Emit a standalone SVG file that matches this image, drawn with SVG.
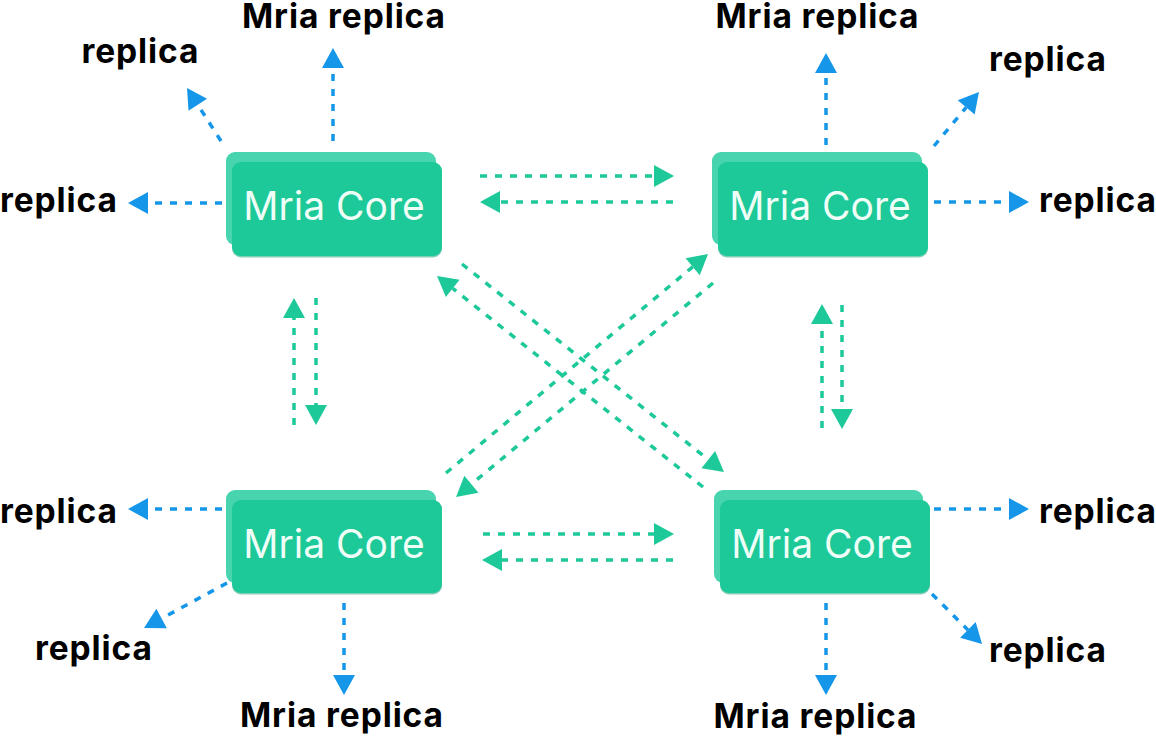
<svg xmlns="http://www.w3.org/2000/svg" width="1156" height="738" viewBox="0 0 1156 738">
<style>
.back{fill:#47d4ae}
.shadow{fill:#2fae8a;opacity:0.6}
.front{fill:#1dc899}
.core{font-family:Inter,"Noto Sans",sans-serif;font-size:39px;font-weight:400;fill:#effff8;text-anchor:middle}
.lbl{font-family:Inter,"Liberation Sans",sans-serif;font-size:33.5px;font-weight:700;fill:#000;text-anchor:middle}
.g{stroke:#1dc899;stroke-width:3.5;stroke-dasharray:7 8;fill:none}
.b{stroke:#1596e8;stroke-width:3.5;stroke-dasharray:7 8;fill:none}
</style>
<defs>
<marker id="ag" markerUnits="userSpaceOnUse" markerWidth="22" markerHeight="24" viewBox="0 -12 21 24" refX="0" refY="0" orient="auto"><path d="M0,-11 L20,0 L0,11 Z" fill="#1dc899"/></marker>
<marker id="ab" markerUnits="userSpaceOnUse" markerWidth="22" markerHeight="24" viewBox="0 -12 21 24" refX="0" refY="0" orient="auto"><path d="M0,-11 L20,0 L0,11 Z" fill="#1596e8"/></marker>
</defs>

<g id="connectors">
<line class="g" x1="480" y1="176" x2="654" y2="176" marker-end="url(#ag)"/>
<line class="g" x1="673" y1="202" x2="500" y2="202" marker-end="url(#ag)"/>
<line class="g" x1="483" y1="534" x2="654" y2="534" marker-end="url(#ag)"/>
<line class="g" x1="673" y1="560" x2="502" y2="560" marker-end="url(#ag)"/>
<line class="g" x1="294" y1="425" x2="294" y2="318" marker-end="url(#ag)"/>
<line class="g" x1="316" y1="298" x2="316" y2="405" marker-end="url(#ag)"/>
<line class="g" x1="822" y1="428" x2="822" y2="324" marker-end="url(#ag)"/>
<line class="g" x1="842" y1="305" x2="842" y2="409" marker-end="url(#ag)"/>
<line class="g" x1="462" y1="264" x2="708.3" y2="459.6" marker-end="url(#ag)"/>
<line class="g" x1="703" y1="487" x2="452.7" y2="288.4" marker-end="url(#ag)"/>
<line class="g" x1="446" y1="473" x2="692.7" y2="266.8" marker-end="url(#ag)"/>
<line class="g" x1="713" y1="283" x2="471.4" y2="484.2" marker-end="url(#ag)"/>
<line class="b" x1="333" y1="141" x2="333" y2="68" marker-end="url(#ab)"/>
<line class="b" x1="221" y1="141" x2="197.8" y2="104.8" marker-end="url(#ab)"/>
<line class="b" x1="222" y1="203" x2="148" y2="203" marker-end="url(#ab)"/>
<line class="b" x1="826" y1="145" x2="826" y2="73" marker-end="url(#ab)"/>
<line class="b" x1="934" y1="146" x2="966.2" y2="107.4" marker-end="url(#ab)"/>
<line class="b" x1="934" y1="202" x2="1009" y2="202" marker-end="url(#ab)"/>
<line class="b" x1="934" y1="509" x2="1009" y2="509" marker-end="url(#ab)"/>
<line class="b" x1="932" y1="594" x2="967.9" y2="629.9" marker-end="url(#ab)"/>
<line class="b" x1="826" y1="603" x2="826" y2="675" marker-end="url(#ab)"/>
<line class="b" x1="227" y1="583" x2="161.6" y2="618.5" marker-end="url(#ab)"/>
<line class="b" x1="344" y1="603" x2="344" y2="675" marker-end="url(#ab)"/>
<line class="b" x1="222" y1="509" x2="148" y2="509" marker-end="url(#ab)"/>
</g>

<g id="core-tl">
<rect class="back" x="226" y="152" width="210" height="93" rx="9"/>
<rect class="shadow" x="232" y="163.5" width="210" height="94" rx="9"/>
<rect class="front" x="232" y="162" width="210" height="94" rx="9"/>
<text class="core" x="334" y="220">Mria Core</text>
</g>
<g id="core-tr">
<rect class="back" x="712" y="152" width="210" height="93" rx="9"/>
<rect class="shadow" x="718" y="163.5" width="210" height="94" rx="9"/>
<rect class="front" x="718" y="162" width="210" height="94" rx="9"/>
<text class="core" x="820" y="220">Mria Core</text>
</g>
<g id="core-bl">
<rect class="back" x="226" y="490" width="210" height="93" rx="9"/>
<rect class="shadow" x="232" y="501.5" width="210" height="93" rx="9"/>
<rect class="front" x="232" y="500" width="210" height="93" rx="9"/>
<text class="core" x="334" y="558">Mria Core</text>
</g>
<g id="core-br">
<rect class="back" x="714" y="490" width="209" height="93" rx="9"/>
<rect class="shadow" x="720" y="501.5" width="210" height="93" rx="9"/>
<rect class="front" x="720" y="500" width="210" height="93" rx="9"/>
<text class="core" x="822" y="558">Mria Core</text>
</g>

<g id="replicas-tl">
<text class="lbl" x="343.5" y="28" textLength="203" lengthAdjust="spacing">Mria replica</text>
<text class="lbl" x="140" y="63" textLength="117" lengthAdjust="spacing">replica</text>
<text class="lbl" x="58.5" y="212" textLength="117" lengthAdjust="spacing">replica</text>
</g>
<g id="replicas-tr">
<text class="lbl" x="817" y="28" textLength="203" lengthAdjust="spacing">Mria replica</text>
<text class="lbl" x="1047.5" y="71" textLength="117" lengthAdjust="spacing">replica</text>
<text class="lbl" x="1097.5" y="212" textLength="117" lengthAdjust="spacing">replica</text>
</g>
<g id="replicas-br">
<text class="lbl" x="1097.5" y="523" textLength="117" lengthAdjust="spacing">replica</text>
<text class="lbl" x="1047.5" y="662" textLength="117" lengthAdjust="spacing">replica</text>
<text class="lbl" x="815" y="728" textLength="203" lengthAdjust="spacing">Mria replica</text>
</g>
<g id="replicas-bl">
<text class="lbl" x="58.5" y="523" textLength="117" lengthAdjust="spacing">replica</text>
<text class="lbl" x="93.5" y="660" textLength="117" lengthAdjust="spacing">replica</text>
<text class="lbl" x="341.5" y="727" textLength="203" lengthAdjust="spacing">Mria replica</text>
</g>
</svg>
